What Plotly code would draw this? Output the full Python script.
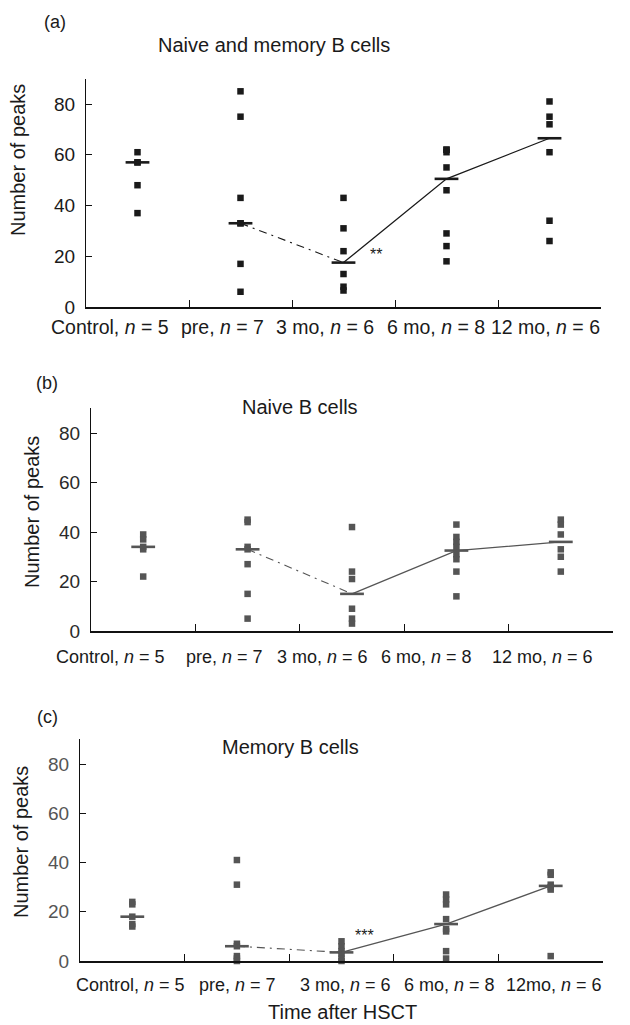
import numpy as np
import plotly.graph_objects as go

W, H = 630, 1025

# ---------------- data ----------------
groups = ["Control", "pre", "3 mo", "6 mo", "12 mo"]

# (a) Naive and memory B cells
a_control = [61, 57, 57, 48, 37]
a_pre = [85, 75, 43, 33, 33, 17, 6]
a_3mo = [43, 31, 22, 13, 8, 6.5]
a_6mo = [62, 62, 61, 55, 46, 29, 24, 18]
a_12mo = [81, 75, 72, 61, 34, 26]

# (b) Naive B cells
b_control = [39, 37, 34, 33, 22]
b_pre = [45, 44, 34, 33, 27, 15, 5]
b_3mo = [42, 24, 21, 9, 5, 3]
b_6mo = [43, 38, 36, 34, 31, 29, 24, 14]
b_12mo = [45, 43, 39, 33, 30, 24]

# (c) Memory B cells
c_control = [24, 23, 18, 15, 14]
c_pre = [41, 31, 7, 6, 2, 1, 0]
c_3mo = [8, 6, 4, 3, 1, 0]
c_6mo = [27, 25, 23, 17, 13, 12, 4, 1]
c_12mo = [36, 35, 31, 30, 29, 2]

a_labels = ["Control, <i>n</i> = 5", "pre, <i>n</i> = 7", "3 mo, <i>n</i> = 6",
            "6 mo, <i>n</i> = 8", "12 mo, <i>n</i> = 6"]
b_labels = ["Control, <i>n</i> = 5", "pre, <i>n</i> = 7", "3 mo, <i>n</i> = 6",
            "6 mo, <i>n</i> = 8", "12 mo, <i>n</i> = 6"]
c_labels = ["Control, <i>n</i> = 5", "pre, <i>n</i> = 7", "3 mo, <i>n</i> = 6",
            "6 mo, <i>n</i> = 8", "12mo, <i>n</i> = 6"]

y_ticks = [0, 20, 40, 60, 80]

# ---------------- layout helpers ----------------
def px_x(p):
    return p / W

def px_y(p):
    return 1 - p / H

FONT = "Liberation Sans, Arial, sans-serif"

panels = [
    dict(name="a", data=[a_control, a_pre, a_3mo, a_6mo, a_12mo], labels=a_labels,
         x0=86, x1=601, y0=307, y80=104, color="#1a1a1a", tickcolor="#1a1a1a",
         letter="(a)", letter_xy=(55, 22), title="Naive and memory B cells", title_xy=(274, 45),
         label_y=327, label_x=[110, 222, 325, 436, 545], label_size=19.5,
         stars="**", stars_xy=(2.82, 20.5), ytitle_xy=(18, 160)),
    dict(name="b", data=[b_control, b_pre, b_3mo, b_6mo, b_12mo], labels=b_labels,
         x0=91, x1=613, y0=631, y80=433, color="#555555", tickcolor="#2a2a2a",
         letter="(b)", letter_xy=(47, 383), title="Naive B cells", title_xy=(300, 407),
         label_y=657, label_x=[110, 224, 322, 426, 542], label_size=18,
         stars=None, stars_xy=None, ytitle_xy=(32, 512)),
    dict(name="c", data=[c_control, c_pre, c_3mo, c_6mo, c_12mo], labels=c_labels,
         x0=80, x1=603, y0=961, y80=764, color="#555555", tickcolor="#555555",
         letter="(c)", letter_xy=(47, 717), title="Memory B cells", title_xy=(290, 747),
         label_y=985, label_x=[130, 237, 345, 449, 554], label_size=18,
         stars="***", stars_xy=(2.72, 10.5), ytitle_xy=(21, 842)),
]

fig = go.Figure()
annotations = []

def ann(text, x, y, size, color="#1a1a1a", angle=0, xref="paper", yref="paper"):
    return dict(text=text, x=x, y=y, xref=xref, yref=yref, showarrow=False,
                xanchor="center", yanchor="middle", textangle=angle,
                font=dict(family=FONT, size=size, color=color))

for k, p in enumerate(panels):
    xa = "x" if k == 0 else f"x{k+1}"
    ya = "y" if k == 0 else f"y{k+1}"
    xkey = "xaxis" if k == 0 else f"xaxis{k+1}"
    ykey = "yaxis" if k == 0 else f"yaxis{k+1}"
    ppv = (p["y0"] - p["y80"]) / 80.0
    ytop = p["y0"] - 90 * ppv

    # points
    for i, vals in enumerate(p["data"]):
        fig.add_trace(go.Scatter(
            x=[i + 0.5] * len(vals), y=vals, mode="markers", xaxis=xa, yaxis=ya,
            marker=dict(symbol="square", size=6.5, color=p["color"], line=dict(width=0)),
            cliponaxis=False, showlegend=False, hoverinfo="y"))
    meds = [float(np.median(v)) for v in p["data"]]
    xs = [i + 0.5 for i in range(len(groups))]
    # median bars
    fig.add_trace(go.Scatter(
        x=xs, y=meds, mode="markers", xaxis=xa, yaxis=ya,
        marker=dict(symbol="line-ew", size=17, color=p["color"],
                    line=dict(width=2.6, color=p["color"])),
        cliponaxis=False, showlegend=False, hoverinfo="y"))
    # dash-dot pre -> 3 mo
    fig.add_trace(go.Scatter(
        x=xs[1:3], y=meds[1:3], mode="lines", xaxis=xa, yaxis=ya,
        line=dict(color=p["color"], width=1.1, dash="8px,5px,2px,5px"),
        showlegend=False, hoverinfo="skip"))
    # solid 3 mo -> 12 mo
    fig.add_trace(go.Scatter(
        x=xs[2:], y=meds[2:], mode="lines", xaxis=xa, yaxis=ya,
        line=dict(color=p["color"], width=1.3),
        showlegend=False, hoverinfo="skip"))

    fig.layout[xkey] = dict(
        domain=[px_x(p["x0"]), px_x(p["x1"])], anchor=ya, range=[0, 5],
        showline=True, linecolor="#111111", linewidth=1.6, showgrid=False, zeroline=False,
        ticks="inside", ticklen=7, tickwidth=1.3, tickcolor="#111111",
        tickvals=[1, 2, 3, 4, 5], ticktext=["", "", "", "", ""], fixedrange=True)
    fig.layout[ykey] = dict(
        domain=[px_y(p["y0"]), px_y(ytop)], anchor=xa, range=[0, 90],
        showline=True, linecolor="#111111", linewidth=1.3, showgrid=False, zeroline=False,
        ticks="inside", ticklen=6, tickwidth=1.3, tickcolor="#111111",
        tickvals=y_ticks, ticktext=[str(t) for t in y_ticks],
        tickfont=dict(family=FONT, size=19, color=p["tickcolor"]),
        ticklabelstandoff=6, fixedrange=True, automargin=False)

    annotations.append(ann(p["letter"], px_x(p["letter_xy"][0]), px_y(p["letter_xy"][1]), 18))
    annotations.append(ann(p["title"], px_x(p["title_xy"][0]), px_y(p["title_xy"][1]), 20))
    annotations.append(ann("Number of peaks", px_x(p["ytitle_xy"][0]), px_y(p["ytitle_xy"][1]),
                           20, angle=-90))
    for lab, lx in zip(p["labels"], p["label_x"]):
        annotations.append(ann(lab, px_x(lx), px_y(p["label_y"]), p["label_size"]))
    if p["stars"]:
        annotations.append(ann(p["stars"], p["stars_xy"][0], p["stars_xy"][1], 16,
                               xref=xa, yref=ya))

annotations.append(ann("Time after HSCT", px_x(342), px_y(1012), 20))

fig.update_layout(width=W, height=H, margin=dict(l=0, r=0, t=0, b=0),
                  paper_bgcolor="white", plot_bgcolor="white",
                  annotations=annotations, showlegend=False)

fig.write_html("out.html")
